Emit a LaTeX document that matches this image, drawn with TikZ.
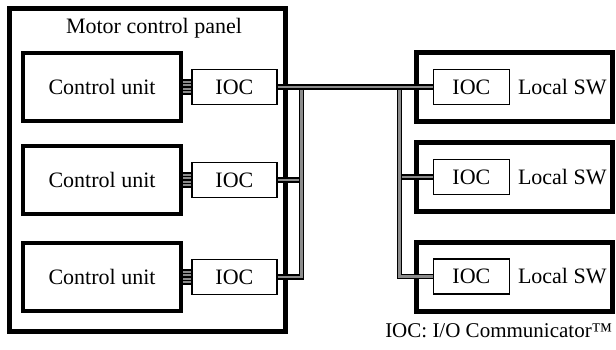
\documentclass[tikz,border=0pt]{standalone}
\usepackage{fontspec}
\setmainfont{Liberation Serif}
\usetikzlibrary{positioning}

\begin{document}
\begin{tikzpicture}[%
        x=1pt, y=-1pt,
        every node/.style={inner sep=0pt, font=\fontsize{22}{26}\selectfont},
        bigbox/.style={rectangle, draw, line width=5pt},
        unit/.style={rectangle, draw, line width=4pt, minimum width=158pt, minimum height=68pt},
        ioc/.style={rectangle, draw, fill=white, line width=1.8pt, minimum height=35pt},
        cable/.style={line width=1.8pt, double=black!45, double distance=2.2pt},
        wire/.style={line width=1.2pt},
        wirebg/.style={fill=black!45}
      ]
      \useasboundingbox (0,0) rectangle (616,350);
      % the panel with its three units
      \node [] (panel) [bigbox, minimum width=276pt, minimum height=322.5pt] at (147.5,169.75) {};
      \node [] (title) at (154,28) {Motor control panel};
      \node [] (cu1) [unit] at (102,87) {Control unit};
      \node [] (cu2) [unit, below=21pt of cu1] {Control unit};
      \node [] (cu3) [unit, below=25pt of cu2] {Control unit};
      \foreach \i in {1,2,3}
        \node [] (mioc\i) [ioc, minimum width=85pt, right=8pt of cu\i] {IOC};
      % local switches
      \node [] (sw1) [bigbox, minimum width=196pt, minimum height=69pt] at (514.5,87) {};
      \node [] (sw2) [bigbox, minimum width=196pt, minimum height=69pt] at (514.5,177) {};
      \node [] (sw3) [bigbox, minimum width=196pt, minimum height=69pt] at (514.5,276.5) {};
      \foreach \i in {1,2,3} {
        \node [] (lioc\i) [ioc, minimum width=76pt, right=18.5pt of sw\i.west] {IOC};
        \node [] (lsw\i) [right=7.5pt of lioc\i] {Local SW};
      }
      \node [] (note) [anchor=east, font=\fontsize{21}{25}\selectfont] at (612.5,331) {IOC: I/O Communicator™};
      % parallel wires unit -> IOC
      \foreach \i in {1,2,3} {
        \fill [wirebg] ([yshift=-7.5pt]mioc\i.west) rectangle ([yshift=7.5pt]mioc\i.west -| cu\i.east);
        \foreach \d in {-7,-3.5,...,7}
          \draw [wire] ([yshift=\d pt]mioc\i.west) -- ([yshift=\d pt]mioc\i.west -| cu\i.east);
      }
      % cables
      \coordinate (lbus) at (301.5,87);
      \coordinate (rbus) at (399.5,87);
      \draw [cable] (mioc2.east) -- (mioc2.east -| lbus);
      \draw [cable] (lioc2.west) -- (lioc2.west -| rbus);
      \draw [cable] (mioc3.east) -| (lbus);
      \draw [cable] (lioc3.west) -| (rbus);
      \draw [cable] (mioc1.east) -- (lioc1.west);
    \end{tikzpicture}
\end{document}
